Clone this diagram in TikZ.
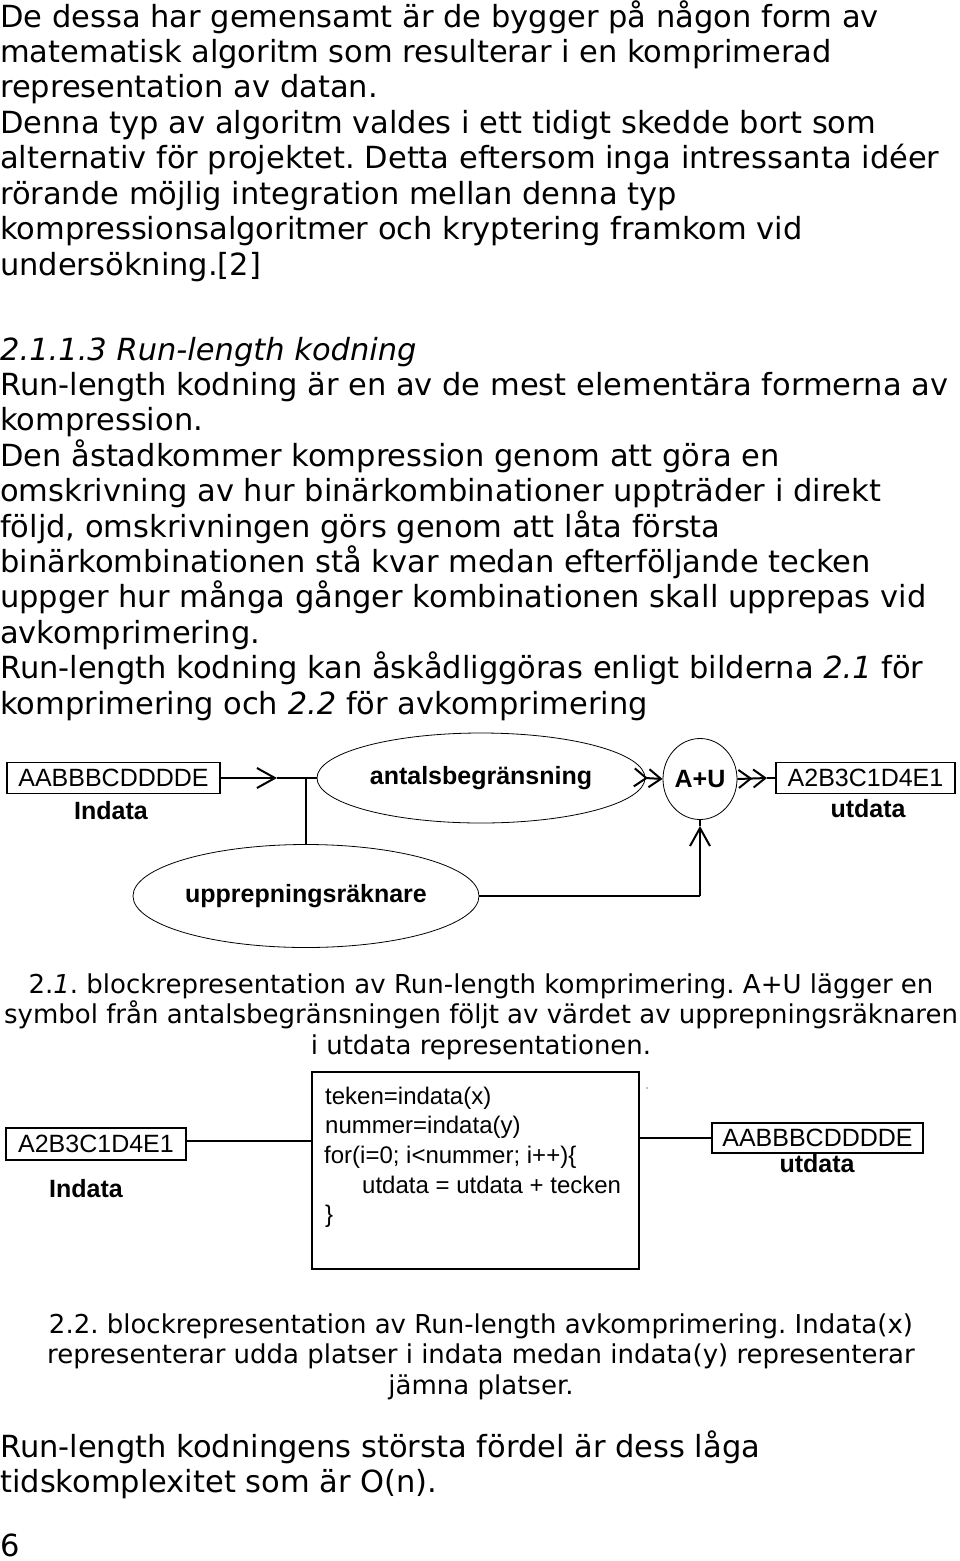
\documentclass[tikz,border=0pt]{standalone}
\usepackage{fontspec}
\setmainfont{DejaVu Sans}[Ligatures=NoCommon]
\newfontfamily\arial{Liberation Sans}
\usetikzlibrary{arrows.meta,shapes.geometric}
\frenchspacing
\tikzset{
  body/.style={anchor=base west,inner sep=0pt,font=\fontsize{30.5}{35}\selectfont},
  captext/.style={anchor=base,inner sep=0pt,font=\fontsize{26}{30}\selectfont},
  databox/.style={draw,line width=1.3pt,inner sep=0pt,font=\arial\fontsize{25}{30}\selectfont},
  lbl/.style={anchor=base,inner sep=0pt,font=\arial\bfseries\fontsize{25}{30}\selectfont},
  oval/.style={ellipse,draw,line width=0.8pt,inner sep=0pt,font=\arial\bfseries\fontsize{25}{30}\selectfont},
  code/.style={anchor=base west,inner sep=0pt,font=\arial\fontsize{24}{29}\selectfont},
  conn/.style={line width=2pt},
  sarrow/.style={conn,-{Straight Barb[length=18pt,width=20pt]}},
  darrow/.style={conn,-{Straight Barb[length=12pt,width=18pt]Straight Barb[length=12pt,width=18pt]}},
}
\begin{document}
\begin{tikzpicture}[x=1pt,y=-1pt]
\useasboundingbox[fill=white] (0,0) rectangle (960,1561);

% ---- top text ----
\node[body] (t1) at (0,27) {De dessa har gemensamt är de bygger på någon form av};
\node[body] (t2) at (0,62.45) {matematisk algoritm som resulterar i en komprimerad};
\node[body] (t3) at (0,97.9) {representation av datan.};
\node[body] (t4) at (0,133.35) {Denna typ av algoritm valdes i ett tidigt skedde bort som};
\node[body] (t5) at (0,168.8) {alternativ för projektet. Detta eftersom inga intressanta idéer};
\node[body] (t6) at (0,204.25) {rörande möjlig integration mellan denna typ};
\node[body] (t7) at (0,239.7) {kompressionsalgoritmer och kryptering framkom vid};
\node[body] (t8) at (0,275.15) {undersökning.[2]};
\node[body] (t9) at (0,360) {\itshape 2.1.1.3 Run-length kodning};
\node[body] (t10) at (0,395.4) {Run-length kodning är en av de mest elementära formerna av};
\node[body] (t11) at (0,430.8) {kompression.};
\node[body] (t12) at (0,466.2) {Den åstadkommer kompression genom att göra en};
\node[body] (t13) at (0,501.6) {omskrivning av hur binärkombinationer uppträder i direkt};
\node[body] (t14) at (0,537) {följd, omskrivningen görs genom att låta första};
\node[body] (t15) at (0,572.4) {binärkombinationen stå kvar medan efterföljande tecken};
\node[body] (t16) at (0,607.8) {uppger hur många gånger kombinationen skall upprepas vid};
\node[body] (t17) at (0,643.2) {avkomprimering.};
\node[body] (t18) at (0,678.6) {Run-length kodning kan åskådliggöras enligt bilderna \textit{2.1} för};
\node[body] (t19) at (0,714) {komprimering och \textit{2.2} för avkomprimering};

% ---- diagram 1 ----
\node[databox,minimum width=213pt,minimum height=31pt] (in1) at (113.5,778) {AABBBCDDDDE};
\node[lbl] (in1l) at (111,819) {Indata};
\node[oval,minimum width=328pt,minimum height=90pt] (ellA) at (481,778) {antalsbegränsning};
\node[oval,minimum width=74pt,minimum height=81pt] (au) at (700,779) {A+U};
\node[databox,minimum width=179pt,minimum height=31pt] (out1) at (865.5,778) {A2B3C1D4E1};
\node[lbl] (out1l) at (868,817) {utdata};
\node[oval,minimum width=346pt,minimum height=103pt] (ellU) at (306,896) {upprepningsräknare};

\coordinate (a1) at (277,778);
\coordinate (j) at (306,778);
\coordinate (a3) at (767,778);
\coordinate (a4) at (700,826);
\coordinate (c4) at (a4 |- ellU.east);

\draw[sarrow] (in1.east) -- (a1);
\draw[conn] (a1) -- (ellA.west);
\draw[conn] (j) -- (ellU.north);
\draw[darrow] (ellA.east) -- (au.west);
\draw[darrow] (au.east) -- (a3);
\draw[conn] (a3) -- (out1.west);
\draw[conn] (ellU.east) -- (c4);
\draw[sarrow] (c4) -- (a4);
\draw[conn] (a4) -- (au.south);

% ---- caption 1 ----
\node[captext] (c1) at (481,993) {2.\textit{1}. blockrepresentation av Run-length komprimering. A+U lägger en};
\node[captext] (c2) at (481,1023.5) {symbol från antalsbegränsningen följt av värdet av upprepningsräknaren};
\node[captext] (c3) at (481,1054) {i utdata representationen.};

% ---- diagram 2 ----
\node[databox,minimum width=180pt,minimum height=32pt] (in2) at (96,1144) {A2B3C1D4E1};
\node[lbl] (in2l) at (86,1197) {Indata};
\node[draw,line width=2.5pt,minimum width=327pt,minimum height=197pt,inner sep=0pt] (prog) at (475.5,1170.5) {};
\node[code] (p1) at (325,1104) {teken=indata(x)};
\node[code] (p2) at (325,1133) {nummer=indata(y)};
\node[code] (p3) at (324,1163) {for(i=0; i<nummer; i++)\{};
\node[code] (p4) at (362,1193) {utdata = utdata + tecken};
\node[code] (p5) at (325,1222) {\}};
\node[databox,minimum width=211pt,minimum height=30pt] (out2) at (817.5,1138) {AABBBCDDDDE};
\node[lbl] (out2l) at (817,1172) {utdata};
\fill[gray] (647,1088) circle (0.8pt);

\draw[conn] ([yshift=3pt]in2.east) -- ([yshift=3pt]in2.east -| prog.west);
\draw[conn] (out2.west -| prog.east) -- (out2.west);

% ---- caption 2 ----
\node[captext] (d1) at (481,1333) {2.2. blockrepresentation av Run-length avkomprimering. Indata(x)};
\node[captext] (d2) at (481,1363.5) {representerar udda platser i indata medan indata(y) representerar};
\node[captext] (d3) at (481,1394) {jämna platser.};

% ---- bottom text ----
\node[body] (b1) at (0,1457) {Run-length kodningens största fördel är dess låga};
\node[body] (b2) at (0,1492.5) {tidskomplexitet som är O(n).};
\node[body] (b3) at (0,1556) {6};
\end{tikzpicture}
\end{document}
